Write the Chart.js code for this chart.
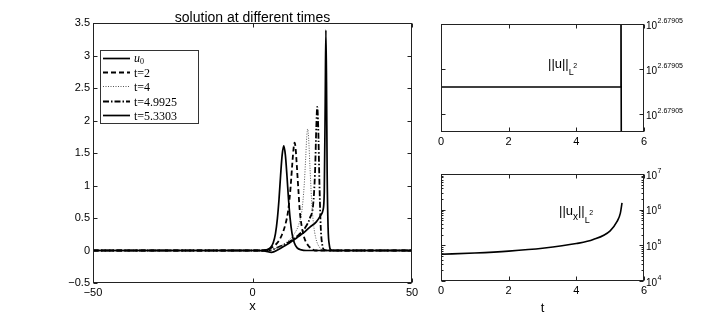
<!DOCTYPE html>
<html>
<head>
<meta charset="utf-8">
<script src="https://cdn.jsdelivr.net/npm/chart.js@4.4.0/dist/chart.umd.min.js"></script>
<style>
  body { margin: 0; background: #fff; width: 712px; height: 318px; position: relative; overflow: hidden; }
  canvas { position: absolute; }
  #profiles { left: 0; top: 0; }
  #normU { left: 430px; top: 0; }
  #normUx { left: 430px; top: 160px; }
</style>
</head>
<body>
<canvas id="profiles" width="430" height="318"></canvas>
<canvas id="normU" width="282" height="160"></canvas>
<canvas id="normUx" width="282" height="158"></canvas>
<script>
// ---- values ----
var xTicks = [-50, 0, 50];
var uTicks = [-0.5, 0, 0.5, 1, 1.5, 2, 2.5, 3, 3.5];
var tTicks = [0, 2, 4, 6];

// u(x) at the different times
var u0X = [-50, -30, -10, 0, 2.8, 4.3, 5.6, 6.5, 7.2, 7.8, 8.3, 8.8, 9.3, 9.8, 10.3, 10.8, 11.3, 11.8, 12.4, 13.1, 14.0, 15.3, 16.8, 20, 30, 50];
var u0Y = [0, 0, 0, 0, 0, 0.01, 0.04, 0.12, 0.26, 0.49, 0.78, 1.15, 1.47, 1.61, 1.47, 1.15, 0.78, 0.49, 0.26, 0.12, 0.04, 0.01, 0, 0, 0, 0];

var t2X = [-50, -30, -10, 3, 5, 6.5, 8, 9.3, 10.3, 11.2, 11.9, 12.5, 12.9, 13.2, 13.5, 13.9, 14.4, 14.8, 15.4, 16.2, 17.4, 18.5, 19.5, 30, 50];
var t2Y = [0, 0, 0, 0, 0.02, 0.06, 0.13, 0.25, 0.4, 0.62, 0.95, 1.35, 1.58, 1.66, 1.58, 1.3, 0.92, 0.62, 0.38, 0.2, 0.08, 0.03, 0, 0, 0];

var t4X = [-50, -30, -10, 4, 6, 8.6, 11, 13, 14.5, 15.5, 16.2, 16.7, 17.0, 17.3, 17.6, 18.0, 18.5, 19.1, 19.9, 21, 22, 23, 30, 50];
var t4Y = [0, 0, 0, 0, 0.01, 0.06, 0.14, 0.25, 0.4, 0.62, 1.0, 1.45, 1.75, 1.87, 1.72, 1.3, 0.8, 0.42, 0.18, 0.05, 0.01, 0, 0, 0];

var t499X = [-50, -30, -10, 5, 8, 11, 14, 16.5, 18, 19, 19.6, 20.0, 20.3, 20.6, 21.0, 21.4, 21.9, 22.5, 23.5, 30, 50];
var t499Y = [0, 0, 0, 0, 0.05, 0.12, 0.22, 0.35, 0.5, 0.7, 1.2, 1.9, 2.21, 1.9, 1.0, 0.35, 0.08, 0.01, 0, 0, 0];

var t533X = [-50, -30, -10, 2, 4, 6, 8, 10, 12, 14, 16, 18, 20, 21.5, 22.1, 22.5, 22.8, 23.0, 23.2, 23.4, 23.7, 24.1, 24.6, 25.5, 30, 50];
var t533Y = [0, 0, 0, 0, -0.01, -0.03, 0.01, 0.07, 0.13, 0.2, 0.27, 0.36, 0.44, 0.55, 0.62, 0.9, 2.3, 3.39, 2.6, 1.2, 0.35, 0.08, 0.01, 0, 0, 0];

var labels = ['u0', 't=2', 't=4', 't=4.9925', 't=5.3303'];

// ||u||_L2 : flat, then the jump at blow-up (axis offsets, every tick reads 10^2.67905)
var tNormU = [0, 5.31, 5.32, 5.33];
var normU = [1.6, 1.6, 3.6, 0];
var normUTicks = [1, 2, 3];
var normUTickExp = ['2.67905', '2.67905', '2.67905'];

// ||u_x||_L2 on a log axis
var tNormUx = [0, 1, 2, 3, 4, 4.5, 5, 5.2, 5.3, 5.35];
var normUx = [5.6e4, 6.1e4, 6.9e4, 8.3e4, 1.12e5, 1.45e5, 2.55e5, 4.6e5, 7.85e5, 1.55e6];
var normUxTicks = [1e4, 1e5, 1e6, 1e7];

Chart.defaults.font.family = "'Liberation Sans', Arial, sans-serif";
Chart.defaults.font.size = 11;
Chart.defaults.color = '#000';

function pts(xs, ys) {
  return xs.map(function(x, i) { return { x: x, y: ys[i] }; });
}
function fixTicks(list) {
  return function(s) { s.ticks = list.map(function(v) { return { value: v }; }); };
}
function num(v) {
  return String(v).replace('-', '\u2212');
}

// matlab style frame with inward ticks
var frame = {
  id: 'frame',
  afterDraw: function(chart) {
    var ctx = chart.ctx, a = chart.chartArea;
    var L = Math.round(a.left) + 0.5, R = Math.round(a.right) - 0.5;
    var T = Math.round(a.top) + 0.5, B = Math.round(a.bottom) - 0.5;
    ctx.save();
    ctx.strokeStyle = '#222';
    ctx.lineWidth = 1;
    ctx.strokeRect(L, T, R - L, B - T);
    ctx.beginPath();
    Object.keys(chart.scales).forEach(function(id) {
      var s = chart.scales[id];
      s.ticks.forEach(function(t) {
        var p = Math.round(s.getPixelForValue(t.value)) + 0.5;
        if (s.isHorizontal()) {
          ctx.moveTo(p, B); ctx.lineTo(p, B - 4);
          ctx.moveTo(p, T); ctx.lineTo(p, T + 4);
        } else {
          ctx.moveTo(L, p); ctx.lineTo(L + 4, p);
          ctx.moveTo(R, p); ctx.lineTo(R - 4, p);
        }
      });
      if (s.type === 'logarithmic') {
        for (var d = s.min; d < s.max; d *= 10) {
          for (var m = 2; m < 10; m++) {
            var q = Math.round(s.getPixelForValue(d * m)) + 0.5;
            ctx.moveTo(L, q); ctx.lineTo(L + 2, q);
            ctx.moveTo(R, q); ctx.lineTo(R - 2, q);
          }
        }
      }
    });
    ctx.stroke();
    ctx.restore();
  }
};

function runs(ctx, x, y, list) {
  list.forEach(function(r) {
    ctx.font = r[1] + "px 'Liberation Sans', Arial, sans-serif";
    ctx.fillText(r[0], x, y + (r[2] || 0));
    x += ctx.measureText(r[0]).width + (r[3] || 0);
  });
}

// free text: title, legend, norm names, 10^k tick labels
var notes = {
  id: 'notes',
  afterDraw: function(chart, args, opts) {
    var ctx = chart.ctx;
    ctx.save();
    ctx.fillStyle = '#000';
    ctx.textBaseline = 'alphabetic';
    if (opts.title) {
      ctx.font = "14px 'Liberation Sans', Arial, sans-serif";
      ctx.textAlign = 'center';
      ctx.fillText(opts.title, (chart.chartArea.left + chart.chartArea.right) / 2, 22);
      ctx.textAlign = 'left';
    }
    if (opts.legend) {
      ctx.fillStyle = '#fff';
      ctx.fillRect(100.5, 50.5, 98, 73);
      ctx.strokeStyle = '#333';
      ctx.lineWidth = 1;
      ctx.strokeRect(100.5, 50.5, 98, 73);
      chart.data.datasets.forEach(function(ds, i) {
        var y = Math.round(58 + i * 14.2) + 0.5;
        ctx.beginPath();
        ctx.setLineDash(ds.borderDash || []);
        ctx.lineWidth = ds.borderWidth;
        ctx.strokeStyle = ds.borderColor;
        ctx.moveTo(103, y); ctx.lineTo(130, y);
        ctx.stroke();
        ctx.setLineDash([]);
        ctx.fillStyle = '#000';
        if (ds.label === 'u0') {
          ctx.font = "italic 12px 'Liberation Serif', serif";
          ctx.fillText('u', 134, y + 3);
          ctx.font = "8px 'Liberation Serif', serif";
          ctx.fillText('0', 140, y + 5);
        } else {
          ctx.font = "12px 'Liberation Serif', serif";
          ctx.fillText(ds.label, 134, y + 4);
        }
      });
    }
    if (opts.name) {
      runs(ctx, opts.name.x, opts.name.y, opts.name.parts);
    }
    if (opts.supTicks) {
      var s = chart.scales.y;
      s.ticks.forEach(function(t, i) {
        var p = s.getPixelForValue(t.value);
        var exp = opts.supTicks[i] || String(Math.round(Math.log10(t.value)));
        runs(ctx, s.left + 2, p, [['10', 10, 4.5, 0.5], [exp, 7, -1]]);
      });
    }
    ctx.restore();
  }
};

var common = {
  responsive: false,
  animation: false,
  events: [],
  elements: { point: { radius: 0 }, line: { cubicInterpolationMode: 'monotone', borderCapStyle: 'butt' } }
};

function line(label, xs, ys, width, dash, color) {
  return { label: label, data: pts(xs, ys), borderColor: color || '#000', borderWidth: width, borderDash: dash, fill: false };
}

new Chart(document.getElementById('profiles'), {
  type: 'line',
  data: {
    datasets: [
      line(labels[0], u0X, u0Y, 1.7, []),
      line(labels[1], t2X, t2Y, 1.8, [5, 3]),
      line(labels[2], t4X, t4Y, 1, [1, 1.5], '#555'),
      line(labels[3], t499X, t499Y, 1.8, [6, 2, 1.5, 2]),
      line(labels[4], t533X, t533Y, 1.7, [])
    ]
  },
  options: Object.assign({}, common, {
    layout: { padding: { left: 0, top: 23, right: 18, bottom: 0 } },
    plugins: {
      legend: { display: false }, tooltip: { enabled: false },
      notes: { title: 'solution at different times', legend: true }
    },
    scales: {
      x: {
        type: 'linear', min: -50, max: 50,
        afterBuildTicks: fixTicks(xTicks),
        afterFit: function(s) { s.height = 35; },
        grid: { display: false, drawTicks: false }, border: { display: false },
        ticks: { padding: 3, maxRotation: 0, autoSkip: false, callback: num },
        title: { display: true, text: 'x', font: { size: 13 }, padding: { top: 0, bottom: 4 } }
      },
      y: {
        type: 'linear', min: -0.5, max: 3.5,
        afterBuildTicks: fixTicks(uTicks),
        afterFit: function(s) { s.width = 93; },
        grid: { display: false, drawTicks: false }, border: { display: false },
        ticks: { padding: 3, autoSkip: false, callback: num }
      }
    }
  }),
  plugins: [frame, notes]
});

function tAxis(h, title) {
  return {
    type: 'linear', min: 0, max: 6,
    afterBuildTicks: fixTicks(tTicks),
    afterFit: function(s) { s.height = h; },
    grid: { display: false, drawTicks: false }, border: { display: false },
    ticks: { padding: 3, maxRotation: 0, autoSkip: false },
    title: { display: !!title, text: title || '', font: { size: 13 }, padding: { top: 0, bottom: 2 } }
  };
}

new Chart(document.getElementById('normU'), {
  type: 'line',
  data: {
    datasets: [{ data: pts(tNormU, normU), borderColor: '#000', borderWidth: 1.6, tension: 0, cubicInterpolationMode: 'default', fill: false }]
  },
  options: Object.assign({}, common, {
    layout: { padding: { left: 11, top: 24, right: 0, bottom: 0 } },
    plugins: {
      legend: { display: false }, tooltip: { enabled: false },
      notes: {
        name: { x: 118, y: 68, parts: [['||u||', 13], ['L', 9, 7, -0.5], ['2', 7, 0]] },
        supTicks: normUTickExp
      }
    },
    scales: {
      x: tAxis(28),
      y: {
        type: 'linear', position: 'right', min: 0.6, max: 3,
        afterBuildTicks: fixTicks(normUTicks),
        afterFit: function(s) { s.width = 68; },
        grid: { display: false, drawTicks: false }, border: { display: false },
        ticks: { display: false }
      }
    }
  }),
  plugins: [frame, notes]
});

new Chart(document.getElementById('normUx'), {
  type: 'line',
  data: {
    datasets: [{ data: pts(tNormUx, normUx), borderColor: '#000', borderWidth: 1.6, fill: false }]
  },
  options: Object.assign({}, common, {
    layout: { padding: { left: 11, top: 14, right: 0, bottom: 0 } },
    plugins: {
      legend: { display: false }, tooltip: { enabled: false },
      notes: {
        name: { x: 129, y: 55, parts: [['||u', 13], ['x', 10, 5], ['||', 13], ['L', 9, 8, -0.5], ['2', 7, 0]] },
        supTicks: []
      }
    },
    scales: {
      x: tAxis(37, 't'),
      y: {
        type: 'logarithmic', position: 'right', min: 1e4, max: 1e7,
        afterBuildTicks: fixTicks(normUxTicks),
        afterFit: function(s) { s.width = 68; },
        grid: { display: false, drawTicks: false }, border: { display: false },
        ticks: { display: false }
      }
    }
  }),
  plugins: [frame, notes]
});
</script>
</body>
</html>
